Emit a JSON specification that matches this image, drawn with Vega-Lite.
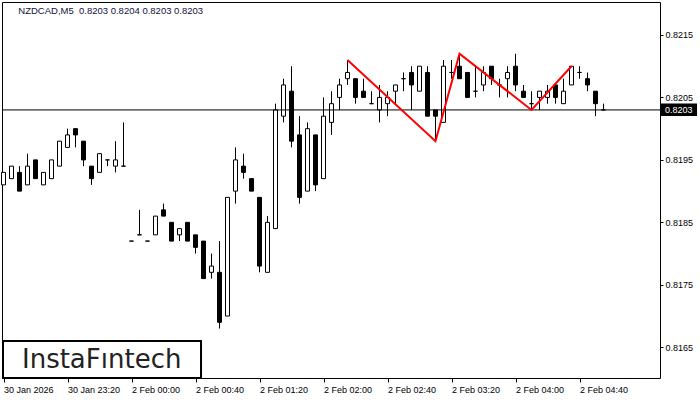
{
  "$schema": "https://vega.github.io/schema/vega-lite/v6.json",
  "autosize": "none",
  "padding": {"left": 2, "top": 2, "right": 40, "bottom": 22},
  "width": 658,
  "height": 376,
  "background": "white",
  "config": {
    "view": {"stroke": "black", "strokeWidth": 1},
    "axis": {"grid": false, "domain": false, "labelFont": "Liberation Sans", "labelFontSize": 9, "labelColor": "black", "tickColor": "black"}
  },
  "datasets": {
    "bars": [
      {"i":0,"o":0.8191,"h":0.8193,"l":0.8191,"c":0.8193},
      {"i":1,"o":0.8192,"h":0.8194,"l":0.8192,"c":0.8194},
      {"i":2,"o":0.8193,"h":0.8194,"l":0.8190,"c":0.8190},
      {"i":3,"o":0.8191,"h":0.8196,"l":0.8191,"c":0.8194},
      {"i":4,"o":0.8195,"h":0.8195,"l":0.8192,"c":0.8192},
      {"i":5,"o":0.8191,"h":0.8193,"l":0.8191,"c":0.8193},
      {"i":6,"o":0.8192,"h":0.8195,"l":0.8192,"c":0.8195},
      {"i":7,"o":0.8194,"h":0.8198,"l":0.8194,"c":0.8198},
      {"i":8,"o":0.8197,"h":0.8200,"l":0.8197,"c":0.8199},
      {"i":9,"o":0.8200,"h":0.8200,"l":0.8197,"c":0.8199},
      {"i":10,"o":0.8198,"h":0.8198,"l":0.8194,"c":0.8195},
      {"i":11,"o":0.8194,"h":0.8194,"l":0.8191,"c":0.8192},
      {"i":12,"o":0.8193,"h":0.8196,"l":0.8193,"c":0.8196},
      {"i":13,"o":0.8195,"h":0.8195,"l":0.8194,"c":0.8195},
      {"i":14,"o":0.8194,"h":0.8198,"l":0.8193,"c":0.8195},
      {"i":15,"o":0.8194,"h":0.8201,"l":0.8194,"c":0.8194},
      {"i":16,"o":0.8182,"h":0.8182,"l":0.8182,"c":0.8182},
      {"i":17,"o":0.8183,"h":0.8187,"l":0.8183,"c":0.8183},
      {"i":18,"o":0.8182,"h":0.8182,"l":0.8182,"c":0.8182},
      {"i":19,"o":0.8183,"h":0.8186,"l":0.8183,"c":0.8186},
      {"i":20,"o":0.8187,"h":0.8188,"l":0.8186,"c":0.8186},
      {"i":21,"o":0.8185,"h":0.8185,"l":0.8182,"c":0.8182},
      {"i":22,"o":0.8183,"h":0.8184,"l":0.8182,"c":0.8184},
      {"i":23,"o":0.8185,"h":0.8185,"l":0.8182,"c":0.8182},
      {"i":24,"o":0.8183,"h":0.8183,"l":0.8180,"c":0.8181},
      {"i":25,"o":0.8182,"h":0.8182,"l":0.8176,"c":0.8176},
      {"i":26,"o":0.8177,"h":0.8180,"l":0.8176,"c":0.8178},
      {"i":27,"o":0.8177,"h":0.8182,"l":0.8168,"c":0.8169},
      {"i":28,"o":0.8170,"h":0.8189,"l":0.8170,"c":0.8189},
      {"i":29,"o":0.8190,"h":0.8197,"l":0.8188,"c":0.8195},
      {"i":30,"o":0.8194,"h":0.8196,"l":0.8192,"c":0.8193},
      {"i":31,"o":0.8192,"h":0.8192,"l":0.8190,"c":0.8190},
      {"i":32,"o":0.8189,"h":0.8189,"l":0.8177,"c":0.8178},
      {"i":33,"o":0.8177,"h":0.8186,"l":0.8177,"c":0.8185},
      {"i":34,"o":0.8184,"h":0.8204,"l":0.8184,"c":0.8203},
      {"i":35,"o":0.8202,"h":0.8208,"l":0.8201,"c":0.8207},
      {"i":36,"o":0.8206,"h":0.8210,"l":0.8197,"c":0.8198},
      {"i":37,"o":0.8199,"h":0.8202,"l":0.8188,"c":0.8189},
      {"i":38,"o":0.8190,"h":0.8201,"l":0.8190,"c":0.8200},
      {"i":39,"o":0.8199,"h":0.8199,"l":0.8190,"c":0.8191},
      {"i":40,"o":0.8192,"h":0.8205,"l":0.8192,"c":0.8202},
      {"i":41,"o":0.8201,"h":0.8206,"l":0.8199,"c":0.8204},
      {"i":42,"o":0.8205,"h":0.8208,"l":0.8203,"c":0.8207},
      {"i":43,"o":0.8208,"h":0.8211,"l":0.8207,"c":0.8209},
      {"i":44,"o":0.8208,"h":0.8208,"l":0.8204,"c":0.8205},
      {"i":45,"o":0.8206,"h":0.8208,"l":0.8205,"c":0.8205},
      {"i":46,"o":0.8204,"h":0.8206,"l":0.8204,"c":0.8204},
      {"i":47,"o":0.8203,"h":0.8207,"l":0.8201,"c":0.8205},
      {"i":48,"o":0.8204,"h":0.8206,"l":0.8202,"c":0.8205},
      {"i":49,"o":0.8206,"h":0.8207,"l":0.8204,"c":0.8207},
      {"i":50,"o":0.8208,"h":0.8209,"l":0.8206,"c":0.8208},
      {"i":51,"o":0.8209,"h":0.8210,"l":0.8203,"c":0.8207},
      {"i":52,"o":0.8206,"h":0.8210,"l":0.8206,"c":0.8210},
      {"i":53,"o":0.8209,"h":0.8210,"l":0.8202,"c":0.8202},
      {"i":54,"o":0.8203,"h":0.8203,"l":0.8198,"c":0.8202},
      {"i":55,"o":0.8201,"h":0.8211,"l":0.8201,"c":0.8210},
      {"i":56,"o":0.8209,"h":0.8211,"l":0.8208,"c":0.8209},
      {"i":57,"o":0.8210,"h":0.8212,"l":0.8208,"c":0.8208},
      {"i":58,"o":0.8209,"h":0.8209,"l":0.8205,"c":0.8205},
      {"i":59,"o":0.8206,"h":0.8210,"l":0.8205,"c":0.8206},
      {"i":60,"o":0.8207,"h":0.8210,"l":0.8206,"c":0.8209},
      {"i":61,"o":0.8210,"h":0.8210,"l":0.8207,"c":0.8208},
      {"i":62,"o":0.8207,"h":0.8208,"l":0.8205,"c":0.8207},
      {"i":63,"o":0.8208,"h":0.8210,"l":0.8205,"c":0.8209},
      {"i":64,"o":0.8210,"h":0.8212,"l":0.8206,"c":0.8207},
      {"i":65,"o":0.8206,"h":0.8207,"l":0.8205,"c":0.8205},
      {"i":66,"o":0.8204,"h":0.8206,"l":0.8203,"c":0.8204},
      {"i":67,"o":0.8205,"h":0.8206,"l":0.8203,"c":0.8206},
      {"i":68,"o":0.8205,"h":0.8207,"l":0.8204,"c":0.8206},
      {"i":69,"o":0.8207,"h":0.8207,"l":0.8204,"c":0.8205},
      {"i":70,"o":0.8204,"h":0.8208,"l":0.8204,"c":0.8206},
      {"i":71,"o":0.8207,"h":0.8210,"l":0.8207,"c":0.8210},
      {"i":72,"o":0.8209,"h":0.8210,"l":0.8208,"c":0.8209},
      {"i":73,"o":0.8208,"h":0.8209,"l":0.8206,"c":0.8207},
      {"i":74,"o":0.8206,"h":0.8206,"l":0.8202,"c":0.8204},
      {"i":75,"o":0.8203,"h":0.8204,"l":0.8203,"c":0.8203}
    ],
    "pattern": [
      {"i":43,"p":0.8211},
      {"i":54,"p":0.8198},
      {"i":57,"p":0.8212},
      {"i":66,"p":0.8203},
      {"i":71,"p":0.8210}
    ]
  },
  "layer": [
    {
      "data": {"name": "bars"},
      "mark": {"type": "rule", "color": "black", "strokeWidth": 1},
      "encoding": {
        "x": {"field": "i", "type": "quantitative",
          "scale": {"domain": [-0.1875, 82.0625], "nice": false, "zero": false, "padding": 0},
          "axis": {"orient": "bottom", "title": null, "values": [0,8,16,24,32,40,48,56,64,72],
            "labelExpr": "['30 Jan 2026','30 Jan 23:20','2 Feb 00:00','2 Feb 00:40','2 Feb 01:20','2 Feb 02:00','2 Feb 02:40','2 Feb 03:20','2 Feb 04:00','2 Feb 04:40'][round(datum.value/8)]",
            "labelAlign": "left", "labelBaseline": "top", "labelPadding": 3, "tickSize": 4,
            "labelOverlap": false, "labelBound": false, "labelFlush": false}},
        "y": {"field": "l", "type": "quantitative",
          "scale": {"domain": [0.816008, 0.822028], "nice": false, "zero": false, "padding": 0},
          "axis": {"orient": "right", "title": null, "values": [0.8165,0.8175,0.8185,0.8195,0.8205,0.8215],
            "format": ".4f", "tickSize": 3, "labelPadding": 2, "labelBaseline": "middle", "labelOverlap": false, "labelBound": false, "labelFlush": false}},
        "y2": {"field": "h"}
      }
    },
    {
      "data": {"name": "bars"},
      "mark": {"type": "bar", "size": 4, "stroke": "black", "strokeWidth": 1},
      "encoding": {
        "x": {"field": "i", "type": "quantitative"},
        "y": {"field": "o", "type": "quantitative"},
        "y2": {"field": "c"},
        "fill": {"condition": {"test": "datum.c < datum.o", "value": "black"}, "value": "white"}
      }
    },
    {
      "data": {"values": [{"price": 0.8203}]},
      "mark": {"type": "rule", "color": "black", "strokeWidth": 1},
      "encoding": {"y": {"field": "price", "type": "quantitative"}}
    },
    {
      "data": {"name": "pattern"},
      "mark": {"type": "line", "color": "#ff0000", "strokeWidth": 2},
      "encoding": {
        "x": {"field": "i", "type": "quantitative"},
        "y": {"field": "p", "type": "quantitative"}
      }
    },
    {
      "data": {"values": [{"price": 0.8203}]},
      "mark": {"type": "rect", "fill": "black", "clip": false},
      "encoding": {
        "x": {"datum": 82.19, "type": "quantitative"},
        "x2": {"datum": 86.69},
        "y": {"datum": 0.820403, "type": "quantitative"},
        "y2": {"datum": 0.820203}
      }
    },
    {
      "data": {"values": [{"price": 0.8203, "label": "0.8203"}]},
      "mark": {"type": "text", "color": "white", "align": "left", "baseline": "middle", "font": "Liberation Sans", "fontSize": 9, "clip": false},
      "encoding": {
        "x": {"datum": 82.69, "type": "quantitative"},
        "y": {"field": "price", "type": "quantitative"},
        "text": {"field": "label"}
      }
    },
    {
      "data": {"values": [{"label": "NZDCAD,M5\u00a0 0.8203 0.8204 0.8203 0.8203"}]},
      "mark": {"type": "text", "color": "#10103a", "align": "left", "baseline": "alphabetic", "font": "Liberation Sans", "fontSize": 9.5},
      "encoding": {
        "x": {"datum": 1.85, "type": "quantitative"},
        "y": {"datum": 0.821836, "type": "quantitative"},
        "text": {"field": "label"}
      }
    },
    {
      "data": {"values": [{"label": "InstaFıntech"}]},
      "mark": {"type": "rect", "fill": "white", "stroke": "black", "strokeWidth": 2},
      "encoding": {
        "x": {"datum": -0.0625, "type": "quantitative"},
        "x2": {"datum": 24.69},
        "y": {"datum": 0.8166, "type": "quantitative"},
        "y2": {"datum": 0.816008}
      }
    },
    {
      "data": {"values": [{"label": "InstaFıntech"}]},
      "mark": {"type": "text", "color": "#222222", "align": "center", "baseline": "alphabetic", "font": "DejaVu Sans", "fontSize": 26},
      "encoding": {
        "x": {"datum": 12.275, "type": "quantitative"},
        "y": {"datum": 0.816163, "type": "quantitative"},
        "text": {"field": "label"}
      }
    }
  ]
}
